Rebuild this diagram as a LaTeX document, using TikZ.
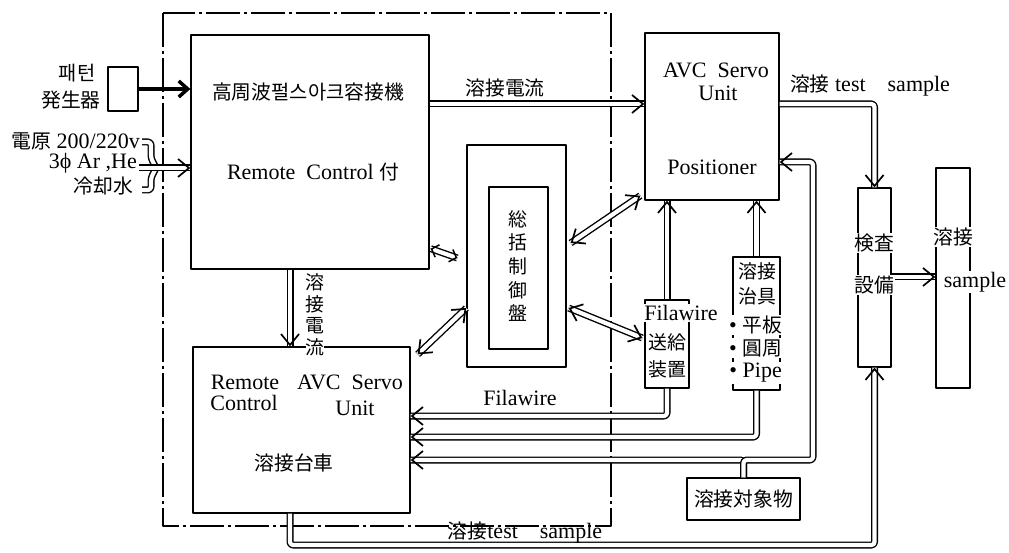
\documentclass[tikz,border=0pt]{standalone}
\usepackage{fontspec}
\setmainfont{Liberation Serif}
\newfontfamily\cjk[Scale=0.9]{Noto Sans CJK JP}
\usetikzlibrary{arrows.meta, decorations.markings}

\newcommand\fnt{\fontsize{22}{26}\selectfont}
\tikzset{
  blk/.style={draw, line width=1.3pt, inner sep=0pt},
  dbl/.style={line width=7pt, rounded corners=3pt,
      postaction={draw, white, line width=4.2pt}},
  barb/.tip={Straight Barb[length=11pt,width=18pt,line width=1.7pt]},
  sbarb/.tip={Straight Barb[length=6pt,width=13pt,line width=1.5pt]},
  tipE/.style={postaction={decorate, decoration={markings,
      mark=at position 1 with {\arrow{barb}}}}},
  tipS/.style={postaction={decorate, decoration={markings,
      mark=at position 0 with {\arrowreversed{barb}}}}},
  tipB/.style={tipE, tipS},
  tipSm/.style={postaction={decorate, decoration={markings,
      mark=at position 0 with {\arrowreversed{sbarb}},
      mark=at position 1 with {\arrow{sbarb}}}}},
  lbl/.style={inner sep=1pt, font=\fnt},
  wlbl/.style={lbl, fill=white},
}

\begin{document}
\begin{tikzpicture}[x=1pt, y=-1pt, line join=round]
\useasboundingbox (0,0) rectangle (1009,553);
% boxes
\node[blk, minimum width=30pt, minimum height=44pt] (patgen) at (123,89) {};
\node[blk, minimum width=238pt, minimum height=234pt] (weld) at (310,152) {};
\node[blk, minimum width=134pt, minimum height=167pt] (avc) at (712,116.5) {};
\node[blk, minimum width=99pt, minimum height=222pt] (ctrl) at (516.5,256) {};
\node[blk, minimum width=59pt, minimum height=162pt] (ctrlin) at (518.5,268) {};
\node[blk, minimum width=217pt, minimum height=166pt] (cart) at (301.5,430) {};
\node[blk, minimum width=44pt, minimum height=88pt] (feed) at (667,344) {};
\node[blk, minimum width=47pt, minimum height=133pt] (jig) at (756.5,323.5) {};
\node[blk, minimum width=33pt, minimum height=179pt] (insp) at (874.5,277.5) {};
\node[blk, minimum width=34pt, minimum height=220pt] (smp) at (953,278) {};
\node[blk, minimum width=113pt, minimum height=42pt, font=\fnt] (obj) at (743.5,499) {\cjk 溶接対象物};
\draw[line width=1.2pt, dash pattern=on 34pt off 4pt on 3pt off 4pt] (163,13) rectangle (611,526);

% texts
\node[lbl] (patA) at (77,73) {\cjk 패턴};
\node[lbl] (patB) at (71,100) {\cjk 発生器};
\node[lbl, anchor=east] (inA) at (141,141) {{\cjk 電原} 200/220v};
\node[lbl, anchor=east] (inB) at (138,163) {3ϕ Ar ,He};
\node[lbl, anchor=east] (inC) at (134,186) {\cjk 冷却水};
\node[lbl] (weldA) at (308,92) {\cjk 高周波펄스아크容接機};
\node[lbl] (weldB) at (313,172) {Remote\ \ Control {\cjk 付}};
\node[lbl] (avcA) at (716,70) {AVC\ \ Servo};
\node[lbl] (avcB) at (718,93) {Unit};
\node[lbl] (avcC) at (712,167) {Positioner};
\node[lbl, align=center, font=\fontsize{21}{23.7}\selectfont\cjk] (ctrlA) at (518,266) {総\\括\\制\\御\\盤};
\node[lbl] (cartA) at (245,382) {Remote};
\node[lbl] (cartB) at (350,382) {AVC\ \ Servo};
\node[lbl] (cartC) at (244,403) {Control};
\node[lbl] (cartD) at (355,408) {Unit};
\node[lbl] (cartE) at (294,463) {\cjk 溶接台車};

% connectors
\coordinate (inp) at (156,168);
\coordinate (cur) at (0,104);
\coordinate (chk) at (0,277);
\coordinate (cv) at (290,0);
\coordinate (fw) at (0,416);
\coordinate (jg) at (0,437);
\coordinate (ob) at (0,460);
\coordinate (rt) at (813,162);
\coordinate (bt) at (0,545);

\draw[line width=3.5pt, -{Straight Barb[length=9pt,width=16pt]}] (patgen.east) -- (patgen.east -| weld.west);
\draw[dbl] (142,142) -| (151,158) -- (inp);
\draw[dbl] (142,190) -| (151,178) -- (inp);
\draw[dbl] (139,168) -- (inp);
\draw[dbl,tipE] (inp) -- (inp -| weld.west);

\draw[dbl,tipE] (cur -| weld.east) -- (cur -| avc.west);
\node[lbl] (curlbl) at (505,88) {\cjk 溶接電流};
\draw[dbl,tipE] (cur -| avc.east) -| (insp.north);
\node[lbl] (tstlbl) at (870,86) {{\cjk 溶接} test\quad sample};
\draw[dbl,tipE] (chk -| insp.east) -- (chk -| smp.west);

\draw[dbl,tipSm] ([xshift=1pt,yshift=21pt]weld.south east) -- ([xshift=-9pt,yshift=-2pt]ctrl.west);
\draw[dbl,tipB] ([yshift=-52pt]ctrl.west) -- ([xshift=7pt,yshift=-8pt]cart.north east);
\draw[dbl,tipB] ([xshift=4pt,yshift=13pt]ctrl.east) -- ([xshift=-4pt,yshift=5pt]avc.south west);
\draw[dbl,tipB] ([xshift=2pt,yshift=-52pt]ctrl.east) -- ([xshift=-2pt,yshift=6pt]feed.west);

\draw[dbl,tipE] (cv |- weld.south) -- (cv |- cart.north);
\node[wlbl, inner sep=0pt, align=center, font=\fontsize{21}{21.5}\selectfont\cjk] (vlbl) at (315,315) {溶\\接\\電\\流};

\draw[dbl,tipE] (feed.north) -- (feed.north |- avc.south);
\draw[dbl,tipE] (jig.north) -- (jig.north |- avc.south);

\draw[dbl,tipE] (feed.south) |- (fw -| cart.east);
\node[lbl] (fwlbl) at (520,398) {Filawire};
\draw[dbl,tipE] (jig.south) |- (jg -| cart.east);
\draw[dbl,tipE] (obj.north) |- (ob -| cart.east);
\draw[dbl,tipE] (obj.north) |- (rt |- ob) -- (rt) -- (rt -| avc.east);

\draw[dbl,tipE] (cv |- cart.south) |- (bt -| insp.south) -- (insp.south);
\node[lbl] (btlbl) at (525,533) {{\cjk 溶接}test\quad sample};

% box labels set over the lines
\node[wlbl] (feedA) at (681,313) {Filawire};
\node[lbl, align=center, font=\fontsize{21}{27}\selectfont\cjk] (feedB) at (667,356) {送給\\装置};
\node[lbl, align=center, font=\fontsize{21}{25}\selectfont\cjk] (jigA) at (757,284) {溶接\\治具};
\node[wlbl, anchor=east] (jigB) at (783,325) {\textbullet\ {\cjk 平板}};
\node[wlbl, anchor=east] (jigC) at (783,348) {\textbullet\ {\cjk 圓周}};
\node[wlbl, anchor=east] (jigD) at (783,373) {\textbullet\ Pipe};
\node[wlbl] (inspA) at (874,243) {\cjk 検査};
\node[wlbl] (inspB) at (874,285) {\cjk 設備};
\node[wlbl] (smpA) at (953,237) {\cjk 溶接};
\node[wlbl] (smpB) at (975,282) {sample};
\end{tikzpicture}
\end{document}
